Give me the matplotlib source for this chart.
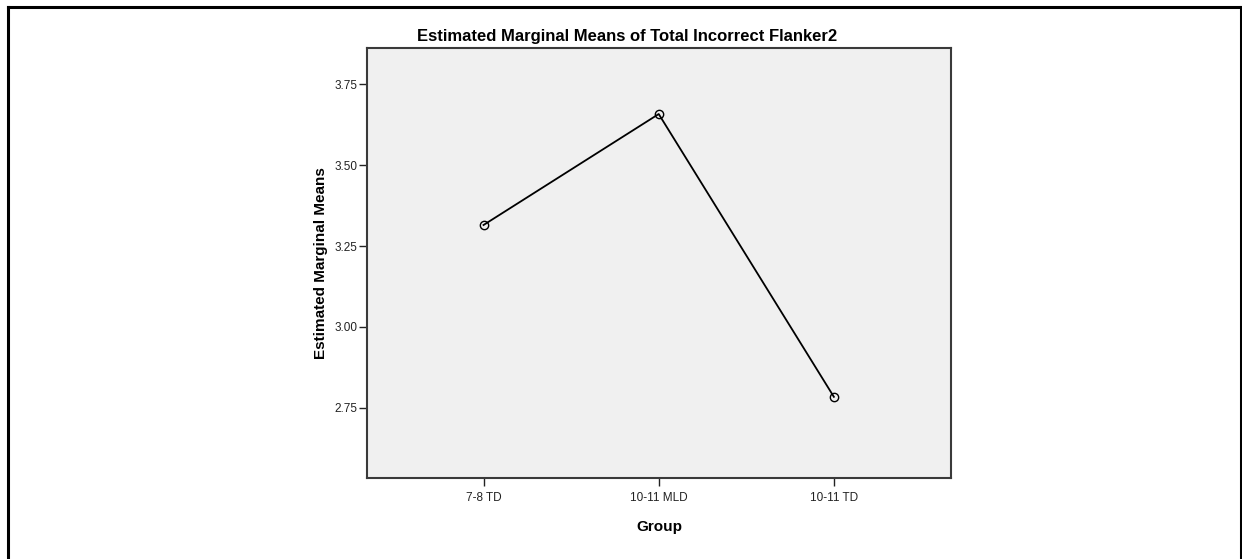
import matplotlib.pyplot as plt
from matplotlib.lines import Line2D

# Data
groups = ["7-8 TD", "10-11 MLD", "10-11 TD"]
means = [3.315, 3.658, 2.784]
y_ticks = [2.75, 3.00, 3.25, 3.50, 3.75]

plt.rcParams["font.family"] = ["Liberation Sans", "DejaVu Sans"]

fig = plt.figure(figsize=(12.42, 5.59), dpi=100)
ax = fig.add_axes([0.2951, 0.1454, 0.4708, 0.7687])
ax.set_facecolor("#f0f0f0")

x = list(range(len(groups)))
ax.plot(x, means, color="black", linewidth=1.3, marker="o", markersize=6,
        markerfacecolor="none", markeredgecolor="black", markeredgewidth=1.0)

ax.set_xlim(-0.668, 2.67)
ax.set_ylim(2.534, 3.862)
ax.set_xticks(x)
ax.set_xticklabels(groups)
ax.set_yticks(y_ticks)
ax.set_yticklabels([f"{v:.2f}" for v in y_ticks])
ax.tick_params(axis="both", direction="out", length=6, width=1.0,
               labelsize=8.5, colors="#222222")
ax.tick_params(axis="y", pad=0.5)
ax.tick_params(axis="x", pad=4.5)

for sp in ax.spines.values():
    sp.set_color("#3a3a3a")
    sp.set_linewidth(1.5)

# title sits a bit left of the plot centre, as in the original export
fig.text(627 / 1242, 1 - 36 / 559, "Estimated Marginal Means of Total Incorrect Flanker2",
         fontsize=12, fontweight="bold", ha="center", va="center")
ax.set_xlabel("Group", fontsize=11, fontweight="bold", labelpad=11.5)
ax.set_ylabel("Estimated Marginal Means", fontsize=11, fontweight="bold", labelpad=5)

# outer frame
frame_kw = dict(color="black", linewidth=2.2, transform=fig.transFigure)
fig.add_artist(Line2D([8 / 1242, 8 / 1242], [0, 1 - 7 / 559], **frame_kw))
fig.add_artist(Line2D([8 / 1242, 1240.5 / 1242], [1 - 7 / 559, 1 - 7 / 559], **frame_kw))
fig.add_artist(Line2D([1240.5 / 1242, 1240.5 / 1242], [0, 1 - 7 / 559], **frame_kw))

fig.savefig("out.png", dpi=100)
